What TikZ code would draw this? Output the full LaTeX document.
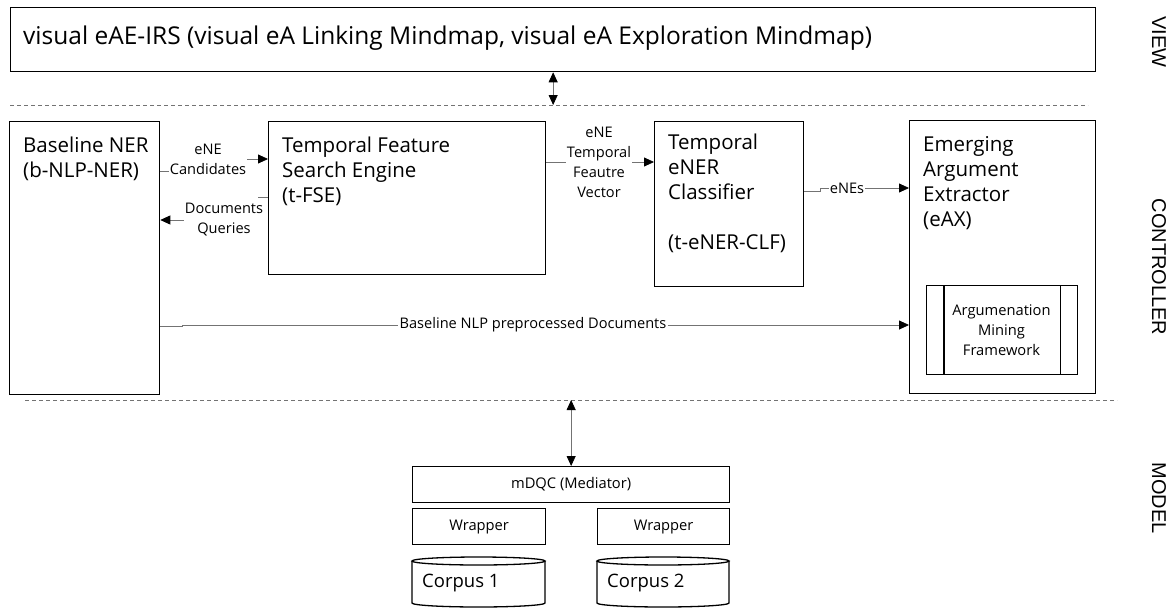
\documentclass[tikz,border=0pt]{standalone}
\usepackage{fontspec}
\setmainfont{Open Sans}
\newfontfamily\sidefont{Liberation Sans}
\usetikzlibrary{arrows.meta}
\begin{document}
\begin{tikzpicture}[x=1pt,y=-1pt,
  box/.style={draw=black, line width=1.3pt, anchor=north west, inner sep=0pt},
  btext/.style={anchor=north west, inner sep=0pt, align=left, font=\fontsize{20.5}{25}\selectfont},
  lbl/.style={inner sep=1pt, align=center, font=\fontsize{14.6}{20}\selectfont},
  small/.style={inner sep=0pt, align=center, font=\fontsize{14.7}{20}\selectfont},
  conn/.style={draw=black!55, line width=0.8pt},
  arr/.style={conn, -{Triangle[length=10pt,width=9pt,color=black]}},
  dbl/.style={conn, {Triangle[length=10pt,width=9pt,color=black]}-{Triangle[length=10pt,width=9pt,color=black]}},
  sep/.style={draw=black!55, line width=0.7pt, dash pattern=on 4pt off 3pt},
  side/.style={inner sep=0pt, rotate=-90, font=\sidefont\fontsize{20}{24}\selectfont}
]
\useasboundingbox (0,0) rectangle (1175,608);

% separators
\coordinate (d1l) at (10,105);
\coordinate (d1r) at (1088,105);
\coordinate (d2l) at (25,400);
\coordinate (d2r) at (1117,400);
\draw[sep] (d1l) -- (d1r);
\draw[sep] (d2l) -- (d2r);

% view
\node[box, minimum width=1085, minimum height=64] (view) at (10,7) {};
\node[anchor=base west, inner sep=0pt, font=\fontsize{24.5}{28}\selectfont] (viewT) at (23,44)
  {visual eAE-IRS (visual eA Linking Mindmap, visual eA Exploration Mindmap)};

% controller boxes
\node[box, minimum width=150, minimum height=273] (ner) at (9,121) {};
\node[btext] (nerT) at (23,137) {Baseline NER\\(b-NLP-NER)};

\node[box, minimum width=277, minimum height=153] (tfse) at (268,121) {};
\node[btext] (tfseT) at (282,137) {Temporal Feature\\Search Engine\\(t-FSE)};

\node[box, minimum width=149, minimum height=165] (clf) at (654,121) {};
\node[btext] (clfT) at (668,134) {Temporal\\eNER\\Classifier\\~\\(t-eNER-CLF)};

\node[box, minimum width=186, minimum height=273] (eax) at (909,120) {};
\node[btext] (eaxT) at (923,136) {Emerging\\Argument\\Extractor\\(eAX)};

\node[box, minimum width=151, minimum height=89] (amf) at (926,285) {};
\draw[line width=1.3pt] (amf.north west) ++(18,0) coordinate (a1) -- (a1 |- amf.south);
\draw[line width=1.3pt] (amf.north east) ++(-18,0) coordinate (a2) -- (a2 |- amf.south);
\node[small] (amfT) at (1001.5,330) {Argumenation\\Mining\\Framework};

% connector labels
\node[lbl] (lcand) at (208,159) {eNE\\Candidates};
\node[lbl] (ldoc) at (224,220) {Documents\\Queries};
\node[lbl] (lvec) at (599,162) {eNE\\Temporal\\Feautre\\Vector};
\node[lbl] (lenes) at (847,188) {eNEs};
\node[lbl] (lnlp) at (533,325) {Baseline NLP preprocessed Documents};

% connectors
\draw[conn] (ner.east |- 0,171) -- (lcand.west |- 0,171);
\draw[arr] (lcand.east |- 0,159) -- (tfse.west |- 0,159);
\draw[conn] (tfse.west |- 0,197) -- (258,197);
\draw[arr] (ldoc.west |- 0,220) -- (ner.east |- 0,220);
\draw[conn] (tfse.east |- 0,162) -- (lvec.west |- 0,162);
\draw[arr] (lvec.east |- 0,162) -- (clf.west |- 0,162);
\draw[conn] (clf.east |- 0,191) -- (820,191) -- (820,188) -- (lenes.west |- 0,188);
\draw[arr] (lenes.east |- 0,188) -- (eax.west |- 0,188);
\draw[conn] (ner.east |- 0,326) -- (182,326) -- (182,325) -- (lnlp.west |- 0,325);
\draw[arr] (lnlp.east |- 0,325) -- (eax.west |- 0,325);

\draw[dbl] (view.south) -- (view.south |- d1l);

% model
\node[box, minimum width=317, minimum height=36] (mdqc) at (412,466) {};
\node[small] (mdqcT) at (mdqc.center) {mDQC (Mediator)};
\draw[dbl] (mdqc.north) -- (mdqc.north |- d2l);

\node[box, minimum width=133, minimum height=36] (w1) at (412,508) {};
\node[small] (w1T) at (w1.center) {Wrapper};
\node[box, minimum width=132, minimum height=36] (w2) at (597,508) {};
\node[small] (w2T) at (w2.center) {Wrapper};

% corpora
\draw[line width=1.3pt] (412,561) -- (412,603) arc[start angle=180, end angle=360, x radius=66.5pt, y radius=4pt] -- (545,561);
\draw[line width=1.3pt] (478.5,561) ellipse [x radius=66.5pt, y radius=4pt];
\node[anchor=west, inner sep=0pt, font=\fontsize{18.5}{24}\selectfont] (c1) at (422,583) {Corpus 1};
\draw[line width=1.3pt] (597,561) -- (597,603) arc[start angle=180, end angle=360, x radius=66pt, y radius=4pt] -- (729,561);
\draw[line width=1.3pt] (663,561) ellipse [x radius=66pt, y radius=4pt];
\node[anchor=west, inner sep=0pt, font=\fontsize{18.5}{24}\selectfont] (c2) at (607,583) {Corpus 2};

% side labels
\node[side] (sview) at (1159,42) {VIEW};
\node[side] (sctrl) at (1159,267) {CONTROLLER};
\node[side] (smodel) at (1159,498) {MODEL};
\end{tikzpicture}
\end{document}
